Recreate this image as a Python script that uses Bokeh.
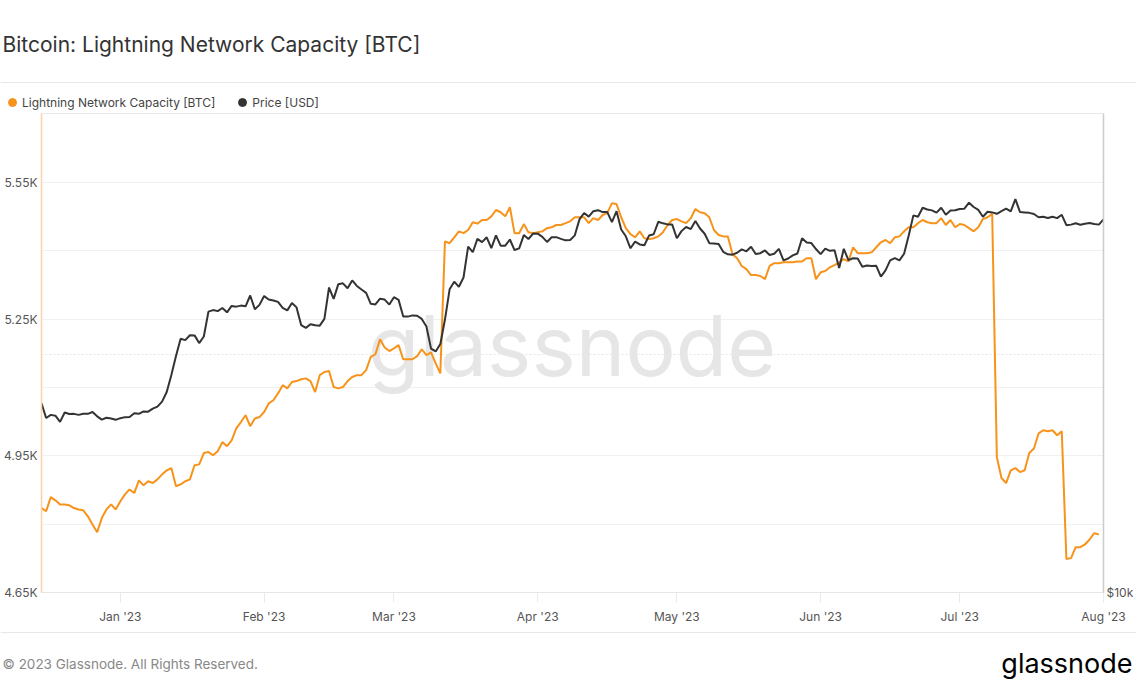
import pandas as pd
from bokeh.plotting import figure
from bokeh.models import (Range1d, LogScale, LogAxis, FixedTicker, CustomJSTickFormatter,
                          DatetimeTickFormatter, Grid, Legend, LegendItem, Label, Span)
from bokeh.embed import file_html
from bokeh.resources import INLINE

# ---------------- data ----------------
dates = pd.date_range("2022-12-15", "2023-08-01", freq="D")

capacity_btc = [
    4835, 4828, 4859, 4852, 4843, 4843, 4841, 4835, 4832, 4830, 4817, 4799, 4782, 4813, 4832, 4843, 4832,
    4850, 4865, 4876, 4868, 4896, 4885, 4894, 4890, 4898, 4909, 4918, 4923, 4883, 4887, 4894, 4898,
    4929, 4931, 4956, 4958, 4951, 4960, 4980, 4971, 4984, 5010, 5024, 5039, 5015, 5032, 5035,
    5046, 5065, 5072, 5087, 5105, 5098, 5112, 5114, 5118, 5120, 5114, 5090, 5127, 5134, 5136, 5101,
    5098, 5101, 5114, 5123, 5127, 5127, 5138, 5167, 5173, 5206, 5188, 5180,
    5186, 5193, 5162, 5162, 5162, 5169, 5184, 5171, 5177, 5153, 5131, 5421, 5417, 5430, 5443, 5439,
    5446, 5463, 5460, 5468, 5468, 5476, 5490, 5485, 5476, 5496, 5439, 5439, 5459, 5441, 5439,
    5441, 5443, 5450, 5452, 5457, 5457, 5461, 5465, 5474, 5474, 5474, 5461, 5472, 5468, 5479, 5483,
    5505, 5503, 5474, 5450, 5437, 5430, 5443, 5428, 5426, 5428,
    5432, 5441, 5457, 5468, 5470, 5465, 5461, 5472, 5492, 5485, 5483, 5474, 5446, 5435, 5432, 5432,
    5393, 5384, 5367, 5360, 5347, 5347, 5345, 5338, 5367, 5373, 5373, 5375, 5375, 5375, 5377,
    5377, 5384, 5384, 5338, 5353, 5356, 5364, 5369, 5375, 5382, 5377, 5408, 5395, 5395, 5395, 5397,
    5408, 5419, 5424, 5417, 5430, 5432, 5443, 5452, 5452, 5461,
    5468, 5463, 5461, 5461, 5472, 5457, 5468, 5452, 5459, 5457, 5450, 5443, 5452, 5470, 5474, 5481,
    4947, 4901, 4890, 4918, 4923, 4914, 4918, 4956, 4966, 4999, 5006, 5004, 5006, 4995, 5004,
    4723, 4725, 4749, 4749, 4755, 4766, 4780, 4777,
]

price_usd = [
    # Dec 15-31 2022
    17360, 16630, 16780, 16740, 16440, 16900, 16820, 16830, 16780, 16840, 16830, 16920, 16710, 16550, 16640, 16600, 16540,
    # Jan 2023
    16620, 16670, 16680, 16860, 16830, 16950, 16940, 17090, 17190, 17440, 17940, 18850, 19930, 20950, 20870, 21170,
    21160, 20690, 21090, 22680, 22780, 22710, 22920, 22630, 23060, 23010, 23080, 23030, 23770, 22840, 23130,
    # Feb
    23730, 23490, 23430, 23330, 22930, 22760, 23260, 22960, 21800, 21630, 21860, 21790, 21770, 22200, 24330, 23540,
    24570, 24630, 24280, 24840, 24440, 24190, 23950, 23200, 23160, 23550, 23490, 23150,
    # Mar
    23650, 23470, 22360, 22350, 22430, 22410, 22200, 21720, 20360, 20190, 20630, 22160, 24200, 24750, 24380, 25050,
    27420, 26970, 28040, 27770, 28170, 27300, 28330, 27490, 27490, 27990, 27140, 27270, 28350, 28030, 28480,
    # Apr
    28470, 28200, 27790, 28170, 28180, 28040, 27920, 27950, 28330, 29680, 30240, 29920, 30400, 30490, 30320, 30320,
    29450, 30400, 28820, 28250, 27280, 27820, 27590, 27520, 28310, 28420, 29470, 29340, 29250, 29230,
    # May
    28090, 28680, 29030, 28850, 29540, 28900, 28460, 27690, 27660, 27620, 27000, 26800, 26780, 26930, 27190, 27040,
    27400, 26830, 26890, 27110, 26750, 26850, 27230, 26330, 26480, 26720, 26870, 28090, 27740, 27700, 27220,
    # Jun
    26820, 27250, 27080, 27120, 25760, 27240, 26350, 26500, 26480, 25850, 25940, 25900, 25920, 25120, 25580, 26330,
    26510, 26340, 26850, 28310, 30030, 29910, 30700, 30550, 30470, 30270, 30700, 30080, 30450, 30480,
    # Jul
    30590, 30620, 31160, 30770, 30510, 29910, 30350, 30290, 30170, 30410, 30620, 30390, 31480, 30320, 30290, 30250,
    30150, 29860, 29910, 29800, 29910, 29790, 30080, 29180, 29230, 29350, 29220, 29310, 29360, 29280, 29230,
    # Aug 1
    29680,
]

left_ticks = [4650, 4950, 5250, 5550]
left_minor_ticks = [4800, 5100, 5400]
right_ticks = [10000]
right_grid_ticks = [20000]
month_ticks = pd.date_range("2023-01-01", "2023-08-01", freq="MS")

TITLE = "Bitcoin: Lightning Network Capacity [BTC]"
SERIES_CAP = "Lightning Network Capacity [BTC]"
SERIES_PRICE = "Price [USD]"
FOOTER = "© 2023 Glassnode. All Rights Reserved."
BRAND = "glassnode"

ORANGE = "#f7931a"
DARK = "#333333"
FONT = "Inter"
W = 1136
SEP = "#e8e8e8"


def blank(height):
    f = figure(width=W, height=height, x_range=Range1d(0, W), y_range=Range1d(height, 0),
               output_backend="svg", toolbar_location=None,
               x_axis_location=None, y_axis_location=None,
               min_border_left=0, min_border_right=0, min_border_top=0, min_border_bottom=0)
    f.outline_line_color = None
    f.grid.visible = False
    f.background_fill_color = "white"
    f.border_fill_color = "white"
    return f


# ---------------- header ----------------
hdr = blank(112)
hdr.add_layout(Label(x=2, y=44, text=TITLE, text_baseline="middle", text_font=FONT,
                     text_font_size="21px", text_color="#333333"))
hdr.add_layout(Span(location=82, dimension="width", line_color=SEP, line_width=1))
# legend swatches use the series data (they fall outside this header's ranges, so only the legend shows them)
dot_cap = hdr.scatter(x=dates, y=capacity_btc, marker="circle", size=8, color=ORANGE)
dot_price = hdr.scatter(x=dates, y=price_usd, marker="circle", size=8, color=DARK)
hdr.add_layout(Legend(items=[LegendItem(label=SERIES_CAP, renderers=[dot_cap]),
                             LegendItem(label=SERIES_PRICE, renderers=[dot_price])],
                      orientation="horizontal", location=(2, 0),
                      border_line_color=None, background_fill_alpha=0,
                      label_text_font=FONT, label_text_font_size="12px", label_text_color="#444444",
                      glyph_width=20, glyph_height=20, label_height=20, label_standoff=0,
                      spacing=17, padding=0, margin=0))

# ---------------- main chart ----------------
p = figure(width=W, height=516, output_backend="svg", toolbar_location=None,
           x_axis_type="datetime",
           x_range=Range1d(dates[0], dates[-1]),
           y_range=Range1d(4649.5, 5702),
           min_border_top=1, min_border_bottom=36, min_border_left=41, min_border_right=28)
p.extra_y_ranges = {"price": Range1d(9995, 40420)}
p.extra_y_scales = {"price": LogScale()}
p.background_fill_color = "white"
p.border_fill_color = "white"
p.outline_line_color = "#e8e8e8"

xa = p.xaxis[0]
xa.ticker = FixedTicker(ticks=[d.value // 10**6 for d in month_ticks])
xa.formatter = DatetimeTickFormatter(days="%b '%y", months="%b '%y", years="%b '%y")
xa.axis_line_color = "#e6e6e6"
xa.major_tick_line_color = "#ebebeb"
xa.major_tick_out = 10
xa.major_tick_in = 0
xa.minor_tick_line_color = None
xa.major_label_text_font = FONT
xa.major_label_text_font_size = "12px"
xa.major_label_text_color = "#555555"
xa.major_label_standoff = 6
p.xgrid.grid_line_color = None

ya = p.yaxis[0]
ya.ticker = FixedTicker(ticks=left_ticks, minor_ticks=left_minor_ticks)
ya.formatter = CustomJSTickFormatter(code="return (tick/1000).toFixed(2) + 'K'")
ya.axis_line_color = "#fbd2a6"
ya.axis_line_width = 1.5
ya.major_tick_line_color = None
ya.major_tick_out = 0
ya.major_tick_in = 0
ya.minor_tick_line_color = None
ya.minor_tick_out = 0
ya.major_label_text_font = FONT
ya.major_label_text_font_size = "12px"
ya.major_label_text_color = "#555555"
ya.major_label_standoff = 4
p.ygrid.ticker = FixedTicker(ticks=left_ticks, minor_ticks=left_minor_ticks)
p.ygrid.grid_line_color = "#f0f0f0"
p.ygrid.minor_grid_line_color = "#f0f0f0"

ra = LogAxis(y_range_name="price", ticker=FixedTicker(ticks=right_ticks),
             formatter=CustomJSTickFormatter(code="return '$' + (tick/1000).toFixed(0) + 'k'"))
ra.axis_line_color = "#cccccc"
ra.axis_line_width = 1.5
ra.major_tick_line_color = None
ra.major_tick_out = 0
ra.major_tick_in = 0
ra.minor_tick_line_color = None
ra.minor_tick_out = 0
ra.major_label_text_font = FONT
ra.major_label_text_font_size = "12px"
ra.major_label_text_color = "#555555"
ra.major_label_standoff = 3
p.add_layout(ra, "right")
p.add_layout(Grid(dimension=1, y_range_name="price", ticker=FixedTicker(ticks=right_grid_ticks),
                  grid_line_color="#e6e6e6", grid_line_dash="2 2"))

# watermark (behind the lines)
p.add_layout(Label(x=pd.Timestamp("2023-04-08 10:00").value / 1e6, y=5192, text=BRAND,
                   text_align="center", text_baseline="alphabetic", text_font=FONT,
                   text_font_size="84px", text_color="#e6e6e6", level="underlay"))

p.line(dates, capacity_btc, line_color=ORANGE, line_width=2)
p.line(dates, price_usd, line_color=DARK, line_width=2, y_range_name="price")

# ---------------- footer ----------------
ftr = blank(58)
ftr.add_layout(Span(location=4, dimension="width", line_color=SEP, line_width=1))
ftr.add_layout(Label(x=2, y=35, text=FOOTER, text_baseline="middle", text_font=FONT,
                     text_font_size="13.5px", text_color="#888888"))
ftr.add_layout(Label(x=W - 4, y=35, text=BRAND, text_align="right", text_baseline="middle",
                     text_font=FONT, text_font_size="27px", text_color="#000000"))

open("out.html", "w").write(file_html([hdr, p, ftr], INLINE))
